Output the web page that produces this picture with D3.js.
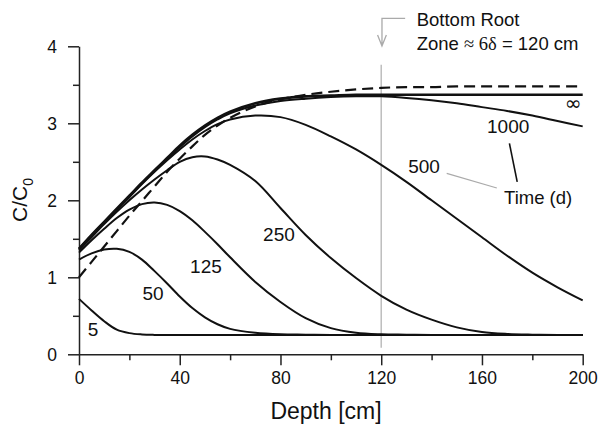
<!DOCTYPE html>
<html><head><meta charset="utf-8">
<script src="https://cdn.jsdelivr.net/npm/d3@7"></script>
<style>
html,body{margin:0;padding:0;background:#fff;}
text{font-family:"Liberation Sans",Arial,sans-serif;fill:#111;}
</style></head>
<body><svg id="c" width="599" height="424"></svg>
<script>
const depth = [0,5,10,15,20,25,30,35,40,45,50,55,60,70,80,90,100,110,120,130,140,150,160,170,180,190,200];
const t5    = [0.72,0.57,0.43,0.32,0.275,0.258,0.252,0.25,0.25,0.25,0.25,0.25,0.25,0.25,0.25,0.25,0.25,0.25,0.25,0.25,0.25,0.25,0.25,0.25,0.25,0.25,0.25];
const t50   = [1.23,1.31,1.36,1.37,1.33,1.23,1.08,0.92,0.75,0.60,0.48,0.39,0.33,0.28,0.26,0.255,0.25,0.25,0.25,0.25,0.25,0.25,0.25,0.25,0.25,0.25,0.25];
const t125  = [1.32,1.48,1.63,1.77,1.88,1.95,1.97,1.94,1.86,1.74,1.59,1.43,1.26,0.94,0.68,0.47,0.34,0.28,0.26,0.255,0.25,0.25,0.25,0.25,0.25,0.25,0.25];
const t250  = [1.35,1.52,1.69,1.85,2.00,2.14,2.27,2.39,2.50,2.56,2.57,2.53,2.46,2.25,1.90,1.55,1.25,0.99,0.76,0.58,0.45,0.35,0.29,0.265,0.255,0.25,0.25];
const t500  = [1.37,1.54,1.71,1.88,2.04,2.21,2.37,2.52,2.66,2.79,2.90,2.99,3.05,3.10,3.08,2.98,2.83,2.66,2.46,2.24,2.00,1.76,1.52,1.28,1.06,0.87,0.70];
const t1000 = [1.37,1.545,1.715,1.885,2.05,2.22,2.38,2.54,2.69,2.83,2.95,3.05,3.13,3.23,3.29,3.32,3.34,3.35,3.35,3.33,3.30,3.26,3.21,3.16,3.10,3.03,2.96];
const tInf  = [1.37,1.55,1.72,1.89,2.06,2.23,2.39,2.55,2.71,2.85,2.97,3.07,3.15,3.26,3.32,3.35,3.36,3.37,3.37,3.37,3.37,3.37,3.37,3.37,3.37,3.37,3.37];
const dashed= [1.0,1.20,1.40,1.60,1.80,1.99,2.18,2.37,2.54,2.70,2.85,2.97,3.07,3.22,3.31,3.37,3.41,3.44,3.46,3.47,3.47,3.48,3.48,3.48,3.48,3.48,3.48];
const xTicks = [0,40,80,120,160,200];
const yTicks = [0,1,2,3,4];
const curveLabels = [
  {t:"5", d:5.6, v:0.32},
  {t:"50", d:29.4, v:0.79},
  {t:"125", d:50.4, v:1.14},
  {t:"250", d:79.4, v:1.56},
  {t:"500", d:137, v:2.44},
  {t:"1000", d:170.4, v:2.96}
];

const svg = d3.select("#c");
const x = d3.scaleLinear().domain([0,200]).range([79,582.7]);
const y = d3.scaleLinear().domain([0,4]).range([354.3,46.3]);

// axes
const gx = svg.append("g").attr("transform",`translate(0,${y(0)})`);
gx.call(d3.axisBottom(x).tickValues(d3.range(0,201,20)).tickSize(6).tickSizeOuter(0).tickFormat(""));
gx.call(g=>g.selectAll(".tick").filter(d=>xTicks.includes(d)).select("line").attr("y2",11));
gx.selectAll(".tick").filter(d=>xTicks.includes(d)).append("text")
  .attr("y",24).attr("dy","0.35em").attr("text-anchor","middle")
  .style("font-size","17.5px").style("fill","#111").text(d=>d);
const gy = svg.append("g").attr("transform",`translate(${x(0)},0)`);
gy.call(d3.axisLeft(y).tickValues(d3.range(0,4.01,0.5)).tickSize(6).tickSizeOuter(0).tickFormat(""));
gy.call(g=>g.selectAll(".tick").filter(d=>yTicks.includes(d)).select("line").attr("x2",-11));
gy.selectAll(".tick").filter(d=>yTicks.includes(d)).append("text")
  .attr("x",-22).attr("dy","0.35em").attr("text-anchor","end")
  .style("font-size","17.5px").style("fill","#111").text(d=>d);
svg.selectAll(".domain, .tick line").attr("stroke","#222").attr("stroke-width",1.5);

// vertical grey line at 120 cm
svg.append("line").attr("x1",x(120)).attr("x2",x(120)).attr("y1",y(0.086)).attr("y2",y(3.76))
  .attr("stroke","#bdbdbd").attr("stroke-width",1.5);

// curves
const line = d3.line().x((d,i)=>x(depth[i])).y(d=>y(d)).curve(d3.curveCatmullRom.alpha(0.5));
const series = [t5,t50,t125,t250,t500,t1000];
svg.selectAll("path.c").data(series).enter().append("path").attr("class","c")
  .attr("d",line).attr("fill","none").attr("stroke","#111").attr("stroke-width",2);
svg.append("path").attr("d",line(tInf)).attr("fill","none").attr("stroke","#111").attr("stroke-width",2.6);
svg.append("path").attr("d",line(dashed)).attr("fill","none").attr("stroke","#111").attr("stroke-width",2.2)
  .attr("stroke-dasharray","11,6");

// curve labels
svg.selectAll("text.cl").data(curveLabels).enter().append("text").attr("class","cl")
  .attr("x",d=>x(d.d)).attr("y",d=>y(d.v)).attr("dy","0.35em").attr("text-anchor","middle")
  .style("font-size","19px").text(d=>d.t);
svg.append("text").attr("x",x(196.2)).attr("y",y(3.26)).attr("dy","0.35em").attr("text-anchor","middle")
  .style("font-size","20px").style("font-family","'DejaVu Sans',sans-serif").text("∞");
svg.append("text").attr("x",x(182.3)).attr("y",y(2.03)).attr("dy","0.35em").attr("text-anchor","middle")
  .style("font-size","18.5px").text("Time (d)");
svg.append("line").attr("x1",x(146)).attr("y1",y(2.35)).attr("x2",x(165.9)).attr("y2",y(2.16))
  .attr("stroke","#aaa").attr("stroke-width",1.2);
svg.append("line").attr("x1",x(170.9)).attr("y1",y(2.74)).attr("x2",x(174)).attr("y2",y(2.24))
  .attr("stroke","#111").attr("stroke-width",1.6);

// bottom root annotation
const ax = x(120.3);
svg.append("path").attr("d",`M${x(129.5)},18.3 H${ax} V46 M${ax-4.4},35 L${ax},46 L${ax+4.4},35`)
  .attr("fill","none").attr("stroke","#aaa").attr("stroke-width",1.3);
svg.append("text").attr("x",416.7).attr("y",26).style("font-size","18.5px").text("Bottom Root");
const z = svg.append("text").attr("x",416.7).attr("y",50).style("font-size","18.5px");
z.append("tspan").text("Zone ");
z.append("tspan").style("font-family","'Liberation Serif',serif").text("≈");
z.append("tspan").style("font-family","'Liberation Serif',serif").text(" 6δ");
z.append("tspan").text(" = 120 cm");

// axis titles
svg.append("text").attr("x",326).attr("y",419).attr("text-anchor","middle")
  .style("font-size","23px").text("Depth [cm]");
const yl = svg.append("text").attr("transform","translate(26.5,200) rotate(-90)").attr("text-anchor","middle")
  .style("font-size","21px");
yl.append("tspan").text("C/C");
yl.append("tspan").attr("dy",6).style("font-size","14px").text("0");
</script></body></html>
